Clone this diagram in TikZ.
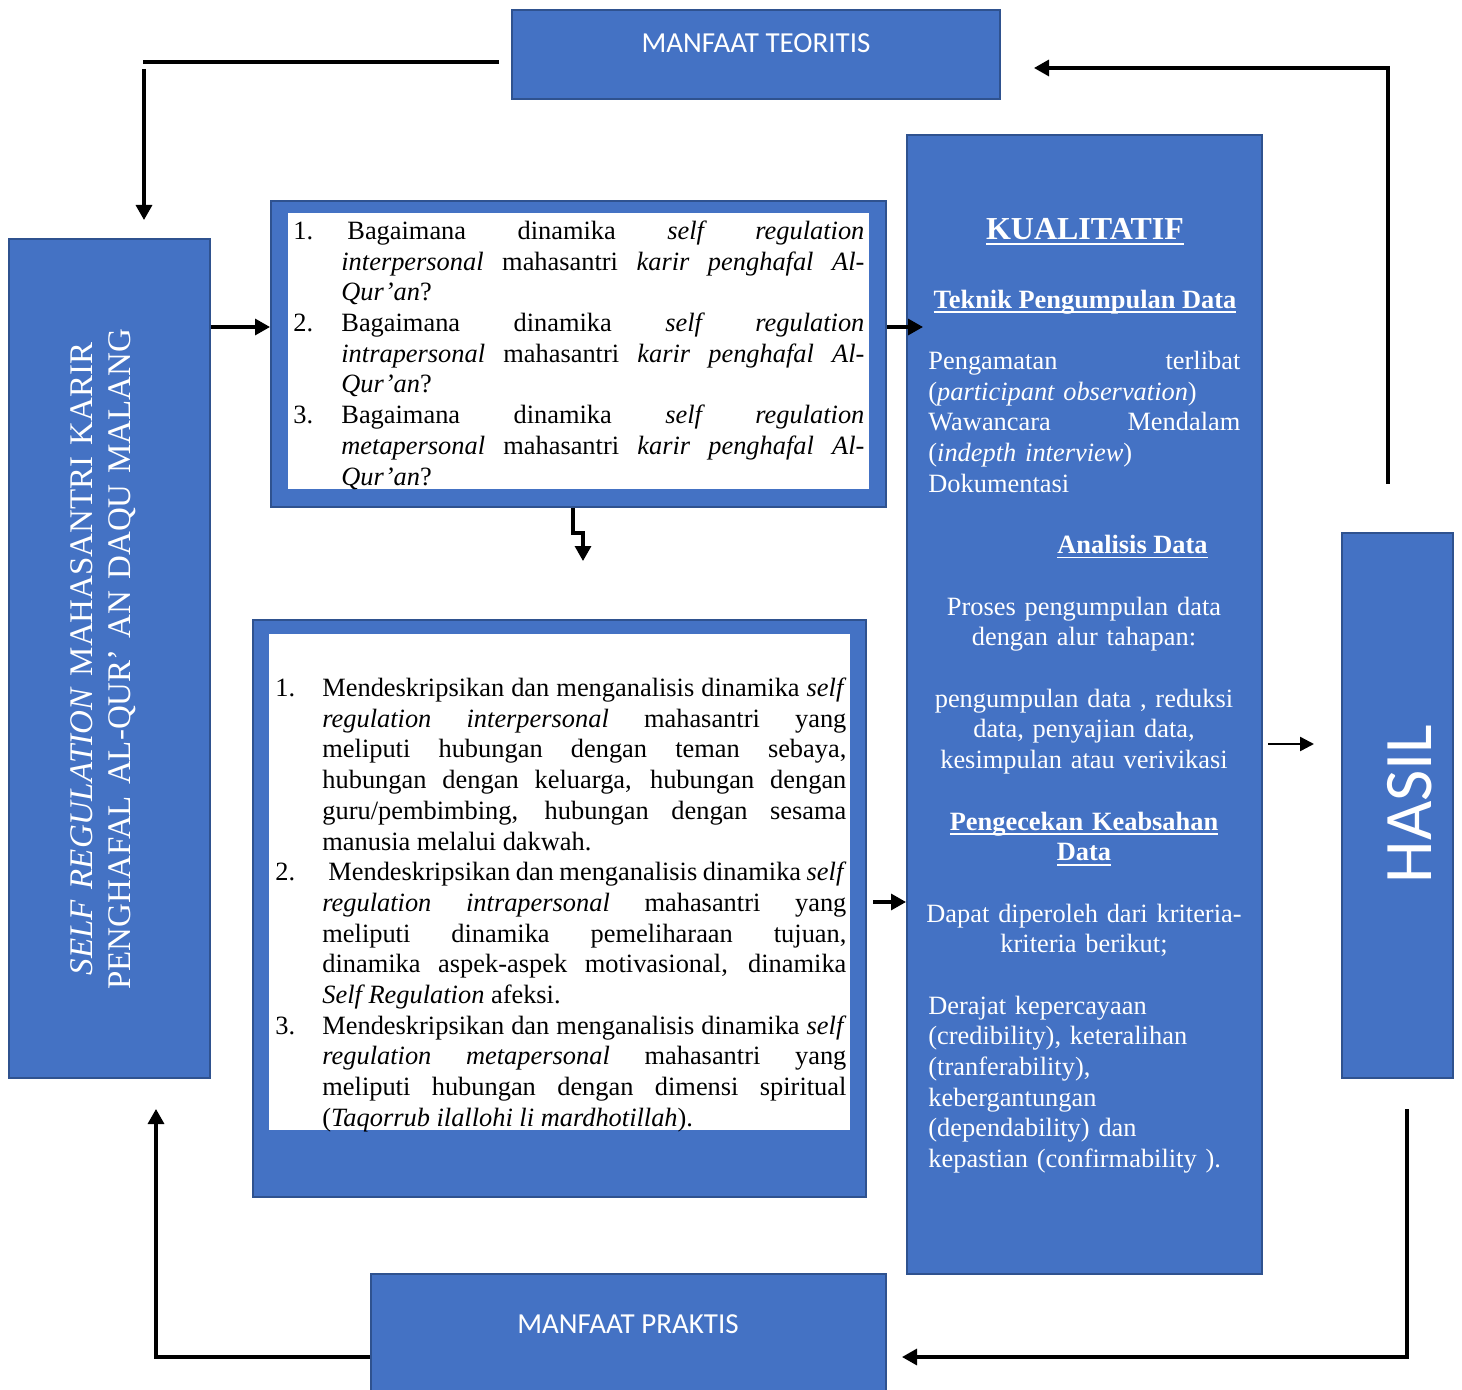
\documentclass[tikz,border=0pt]{standalone}
\usepackage{fontspec}
\setmainfont{Liberation Serif}
\newfontfamily\calibri{Carlito}
\usetikzlibrary{arrows.meta,calc}
\definecolor{boxblue}{HTML}{4472C4}
\definecolor{boxedge}{HTML}{2F528F}

% numbered paragraph with hanging indent
\newlength\itemind
\newcommand\numitem[2]{\noindent\hangindent=\itemind\hangafter=1\makebox[\itemind][l]{#1}#2\par}
% underline at a fixed depth below the baseline
\newcommand\ulin[1]{\leavevmode\setbox0=\hbox{#1}\rlap{\rule[-2.4pt]{\wd0}{0.9pt}}\box0}

\tikzset{
  bluebox/.style={rectangle, draw=boxedge, fill=boxblue, line width=1pt, inner sep=0},
  whitebox/.style={rectangle, fill=white, inner sep=0},
  conn/.style={line width=1.6pt, draw=black},
  arr/.style={conn, -{Triangle[length=7.5pt,width=8pt]}},
  body/.style={inner sep=0, font=\fontsize{13.2}{15.35}\selectfont},
  wbody/.style={body, text=white},
  sanslabel/.style={inner sep=0, text=white, font=\calibri\fontsize{14.5}{17}\selectfont},
}

\begin{document}
\begin{tikzpicture}[x=0.5pt, y=-0.5pt]
\useasboundingbox (0,0) rectangle (1462,1390);

% ---------- boxes ----------
\node[bluebox, minimum width=244pt, minimum height=44.5pt] (teor) at (756,54.5) {};
\node[sanslabel] at (756,43) {MANFAAT TEORITIS};

\node[bluebox, minimum width=100.5pt, minimum height=419.5pt] (left) at (109.5,658.5) {};
\node[rotate=90, anchor=base, text width=350pt, align=center, inner sep=0, text=white,
      font=\fontsize{16.5}{19}\selectfont] (lefttext) at (92,659)
  {\textit{SELF REGULATION} MAHASANTRI KARIR\\PENGHAFAL AL-QUR’ AN DAQU MALANG};

\node[bluebox, minimum width=307.5pt, minimum height=153pt] (q) at (578.5,354) {};
\node[whitebox, minimum width=290.5pt, minimum height=138pt] (qin) at (578.5,351) {};

\node[bluebox, minimum width=306.5pt, minimum height=288.5pt] (tuj) at (559.5,908.5) {};
\node[whitebox, minimum width=290.5pt, minimum height=248pt] (tujin) at (559.5,882) {};

\node[bluebox, minimum width=177.5pt, minimum height=569.5pt] (kual) at (1084.5,704.5) {};

\node[bluebox, minimum width=55.5pt, minimum height=272.5pt] (hasil) at (1397.5,805.5) {};
\node[rotate=90, inner sep=0, text=white, font=\calibri\fontsize{34}{40}\selectfont] at (1410,804) {HASIL};

\node[bluebox, minimum width=257.5pt, minimum height=60pt] (prak) at (628.5,1334) {};
\node[sanslabel] at (628,1324) {MANFAAT PRAKTIS};

% ---------- research questions ----------
\node[body, text width=285.5pt, anchor=base west, align=justify] (qtext) at (293,239.5) {%
  \tolerance=9999\relax\hyphenpenalty=10000\relax\exhyphenpenalty=10000\relax
  \setlength\itemind{24pt}%
  \numitem{1.}{\hspace{3pt}Bagaimana dinamika \textit{self regulation}\linebreak
    \textit{interpersonal} mahasantri \textit{karir penghafal Al-}\linebreak
    \textit{Qur’an}?}%
  \numitem{2.}{Bagaimana dinamika \textit{self regulation}\linebreak
    \textit{intrapersonal} mahasantri \textit{karir penghafal Al-}\linebreak
    \textit{Qur’an}?}%
  \numitem{3.}{Bagaimana dinamika \textit{self regulation}\linebreak
    \textit{metapersonal} mahasantri \textit{karir penghafal Al-}\linebreak
    \textit{Qur’an}?}};

% ---------- research objectives ----------
\node[body, text width=285.5pt, anchor=base west, align=justify] (ttext) at (275,696.5) {%
  \tolerance=9999\relax\hyphenpenalty=10000\relax\exhyphenpenalty=10000\relax
  \setlength\itemind{23.5pt}%
  \numitem{1.}{Mendeskripsikan dan menganalisis dinamika \textit{self}\linebreak
    \textit{regulation interpersonal} mahasantri yang\linebreak
    meliputi hubungan dengan teman sebaya,\linebreak
    hubungan dengan keluarga, hubungan dengan\linebreak
    guru/pembimbing, hubungan dengan sesama\linebreak
    manusia melalui dakwah.}%
  \numitem{2.}{\hspace{3pt}Mendeskripsikan dan menganalisis dinamika \textit{self}\linebreak
    \textit{regulation intrapersonal} mahasantri yang\linebreak
    meliputi dinamika pemeliharaan tujuan,\linebreak
    dinamika aspek-aspek motivasional, dinamika\linebreak
    \textit{Self Regulation} afeksi.}%
  \numitem{3.}{Mendeskripsikan dan menganalisis dinamika \textit{self}\linebreak
    \textit{regulation metapersonal} mahasantri yang\linebreak
    meliputi hubungan dengan dimensi spiritual\linebreak
    (\textit{Taqorrub ilallohi li mardhotillah}).}};

% ---------- method column ----------
\node[inner sep=0, text=white, anchor=base, font=\fontsize{16}{19}\selectfont\bfseries] (k1) at (1085,240) {\ulin{KUALITATIF}};
\node[wbody, anchor=base, font=\fontsize{13.2}{15.35}\selectfont\bfseries] (k2) at (1085,308.5) {\ulin{Teknik Pengumpulan Data}};
\node[wbody, text width=156pt, anchor=base west] (k3) at (928,369.5) {%
  Pengamatan\hfill terlibat\\
  (\textit{participant observation})\\
  Wawancara\hfill Mendalam\\
  (\textit{indepth interview})\\
  Dokumentasi};
\node[wbody, anchor=base, font=\fontsize{13.2}{15.35}\selectfont\bfseries] (k4) at (1132.5,553.5) {\ulin{Analisis Data}};
\node[wbody, text width=160pt, align=center, anchor=base] (k5) at (1084,615)
  {Proses pengumpulan data\\dengan alur tahapan:};
\node[wbody, text width=160pt, align=center, anchor=base] (k6) at (1084,707)
  {pengumpulan data , reduksi\\data, penyajian data,\\kesimpulan atau verivikasi};
\node[wbody, text width=160pt, align=center, anchor=base, font=\fontsize{13.2}{15.35}\selectfont\bfseries] (k7) at (1084,830)
  {\ulin{Pengecekan Keabsahan}\\\ulin{Data}};
\node[wbody, text width=160pt, align=center, anchor=base] (k8) at (1084,922)
  {Dapat diperoleh dari kriteria-\\kriteria berikut;};
\node[wbody, text width=160pt, align=left, anchor=base west] (k9) at (928,1014)
  {Derajat kepercayaan\\(credibility), keteralihan\\(tranferability),\\kebergantungan\\(dependability) dan\\kepastian (confirmability ).};

% ---------- connectors ----------
\coordinate (tl) at (143,62);
\draw[conn] ($(teor.west |- tl)+(-12,0)$) -- (tl);
\draw[arr] ($(tl)+(1,7)$) -- ($(left.north -| tl)+(1,-18)$);

\coordinate (tr) at (1388,68);
\draw[arr] ($(hasil.north -| tr)+(0,-48)$) -- (tr) -- ($(teor.east |- tr)+(33,0)$);

\coordinate (ya) at (0,327);
\draw[arr] (left.east |- ya) -- (q.west |- ya);
\draw[arr] (q.east |- ya) -- ($(kual.west |- ya)+(17,0)$);

\draw[arr] ($(q.south)+(-5.5,0)$) -- ++(0,25) -- ++(10,0) -- ++(0,28);

\coordinate (yb) at (0,902);
\draw[arr] ($(tuj.east |- yb)+(6,0)$) -- (kual.west |- yb);

\coordinate (yc) at (0,744);
\draw[conn, line width=1.2pt, -{Triangle[length=7pt,width=7pt]}] ($(kual.east |- yc)+(5,0)$) -- ($(hasil.west |- yc)+(-27,0)$);

\coordinate (br) at (1407,1357);
\draw[arr] ($(hasil.south -| br)+(0,30)$) -- (br) -- ($(prak.east |- br)+(15,0)$);

\coordinate (bl) at (156,1357);
\draw[arr] (prak.west |- bl) -- (bl) -- ($(left.south -| bl)+(0,30)$);
\end{tikzpicture}
\end{document}
